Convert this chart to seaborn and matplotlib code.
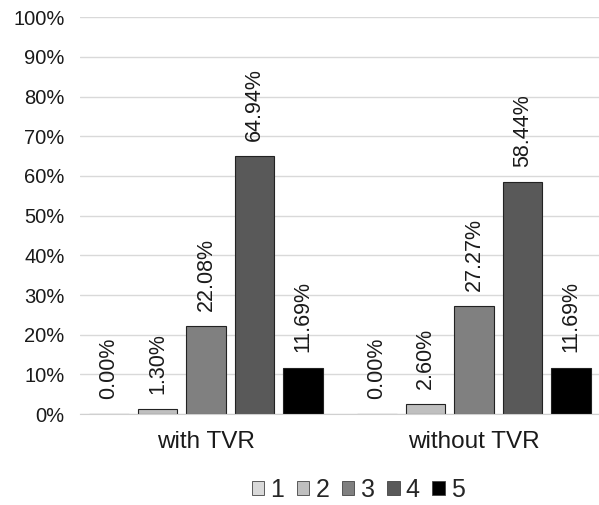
import pandas as pd
import seaborn as sns
import matplotlib.pyplot as plt

# chart values
groups = ["with TVR", "without TVR"]
scores = ["1", "2", "3", "4", "5"]
with_tvr = [0.00, 1.30, 22.08, 64.94, 11.69]
without_tvr = [0.00, 2.60, 27.27, 58.44, 11.69]
colors = ["#d9d9d9", "#bfbfbf", "#808080", "#595959", "#000000"]

rows = []
for g, vals in zip(groups, [with_tvr, without_tvr]):
    for s, v in zip(scores, vals):
        rows.append({"group": g, "score": s, "value": v})
data = pd.DataFrame(rows)

sns.set_style("white")
plt.rcParams['font.family'] = ['Liberation Sans', 'DejaVu Sans']

fig = plt.figure(figsize=(5.99, 5.05), dpi=100)
ax = fig.add_axes([0.1336, 0.180, 0.8664, 0.786])

sns.barplot(data=data, x="group", y="value", hue="score", palette=colors,
            width=0.905, gap=0.19, edgecolor="#222222", linewidth=0.8,
            legend=False, ax=ax)

for cont in ax.containers:
    ax.bar_label(cont, labels=[f"{b.get_height():.2f}%" for b in cont],
                 rotation=90, padding=11, fontsize=15.5, color="#1a1a1a")

ax.set_ylim(0, 100)
ax.set_xlim(-0.47, 1.466)
ax.set_yticks(range(0, 101, 10))
ax.set_yticklabels([f"{t}%" for t in range(0, 101, 10)])
ax.yaxis.grid(True, color="#d9d9d9", linewidth=1.0)
ax.set_axisbelow(True)
for side in ["left", "right", "top"]:
    ax.spines[side].set_visible(False)
ax.spines["bottom"].set_color("#d0d0d0")
ax.tick_params(axis="y", length=0, pad=11, labelsize=14.5, labelcolor="#1a1a1a")
ax.tick_params(axis="x", length=0, pad=12, labelsize=17.5, labelcolor="#1a1a1a")
ax.set_xlabel("")
ax.set_ylabel("")

handles = [plt.Rectangle((0, 0), 1, 1, facecolor=c, edgecolor="#444444", linewidth=0.6)
           for c in colors]
fig.legend(handles, scores, loc="lower center", bbox_to_anchor=(0.598, 0.004),
           ncol=5, frameon=False, fontsize=18, handlelength=0.5, handleheight=0.5,
           handletextpad=0.25, columnspacing=0.5, borderpad=0.05, borderaxespad=0)

plt.savefig("out.png", dpi=100)
